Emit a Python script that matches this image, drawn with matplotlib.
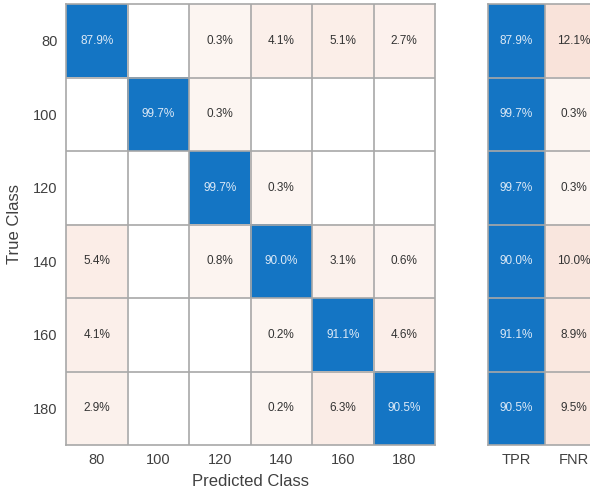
import numpy as np
import matplotlib
matplotlib.use("Agg")
import matplotlib.pyplot as plt

plt.rcParams["font.family"] = ["Liberation Sans", "DejaVu Sans"]

# Class labels and row-normalised confusion percentages (rows: true, cols: predicted)
classes = ["80", "100", "120", "140", "160", "180"]
row_80 = [87.9, 0.0, 0.3, 4.1, 5.1, 2.7]
row_100 = [0.0, 99.7, 0.3, 0.0, 0.0, 0.0]
row_120 = [0.0, 0.0, 99.7, 0.3, 0.0, 0.0]
row_140 = [5.4, 0.0, 0.8, 90.0, 3.1, 0.6]
row_160 = [4.1, 0.0, 0.0, 0.2, 91.1, 4.6]
row_180 = [2.9, 0.0, 0.0, 0.2, 6.3, 90.5]
summary_labels = ["TPR", "FNR"]
tpr = [87.9, 99.7, 99.7, 90.0, 91.1, 90.5]
fnr = [12.1, 0.3, 0.3, 10.0, 8.9, 9.5]

conf = np.array([row_80, row_100, row_120, row_140, row_160, row_180])
summary = np.column_stack([tpr, fnr])

BLUE = np.array([20, 117, 196]) / 255.0
ORANGE = np.array([217, 83, 25]) / 255.0
GRID = "#a8a8a8"
TXT = "#404040"


def off_color(v):
    if v <= 0:
        return np.ones(3)
    w = 0.055 + 0.85 * v / 100.0
    return 1 - w * (1 - ORANGE)


def cell_colors(vals, diag_mask):
    rgb = np.ones(vals.shape + (3,))
    for i in range(vals.shape[0]):
        for j in range(vals.shape[1]):
            rgb[i, j] = BLUE if diag_mask[i, j] else off_color(vals[i, j])
    return rgb


def draw_grid(ax, nrows, ncols):
    for k in range(1, ncols):
        ax.axvline(k - 0.5, color=GRID, lw=1.2)
    for k in range(1, nrows):
        ax.axhline(k - 0.5, color=GRID, lw=1.2)
    for s in ax.spines.values():
        s.set_color(GRID)
        s.set_linewidth(1.2)
    ax.tick_params(length=0, colors=TXT, labelsize=10.5, pad=6)


def annotate(ax, vals, diag_mask):
    for i in range(vals.shape[0]):
        for j in range(vals.shape[1]):
            v = vals[i, j]
            if v <= 0:
                continue
            ax.text(j, i, f"{v:.1f}%", ha="center", va="center", fontsize=8.5,
                    color="#dce9f6" if diag_mask[i, j] else "#333333")


fig = plt.figure(figsize=(5.90, 4.99), dpi=100)
W, H = 590.0, 499.0

n = len(classes)
ax = fig.add_axes([66 / W, (H - 445) / H, 369 / W, 441 / H])
diag = np.eye(n, dtype=bool)
ax.imshow(cell_colors(conf, diag), aspect="auto", interpolation="nearest",
          extent=(-0.5, n - 0.5, n - 0.5, -0.5))
annotate(ax, conf, diag)
draw_grid(ax, n, n)
ax.set_xticks(range(n))
ax.set_xticklabels(classes)
ax.set_yticks(range(n))
ax.set_yticklabels(classes)
ax.set_xlabel("Predicted Class", fontsize=12, color=TXT, labelpad=5)
ax.set_ylabel("True Class", fontsize=12, color=TXT, labelpad=8)

ax2 = fig.add_axes([488 / W, (H - 445) / H, 114 / W, 441 / H])
sdiag = np.zeros(summary.shape, dtype=bool)
sdiag[:, 0] = True
ax2.imshow(cell_colors(summary, sdiag), aspect="auto", interpolation="nearest",
           extent=(-0.5, 1.5, n - 0.5, -0.5))
annotate(ax2, summary, sdiag)
draw_grid(ax2, n, 2)
ax2.set_xticks(range(2))
ax2.set_xticklabels(summary_labels)
ax2.set_yticks([])

fig.savefig("out.png", dpi=100)
